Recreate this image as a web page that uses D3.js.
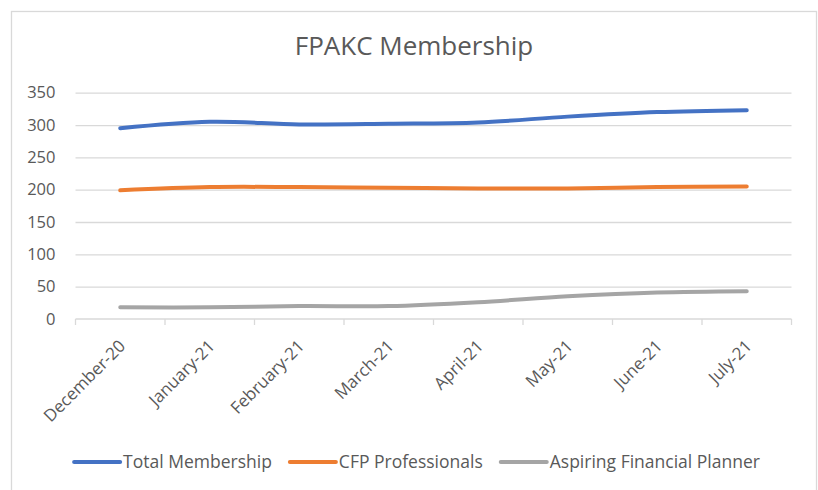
<!DOCTYPE html>
<html>
<head>
<meta charset="utf-8">
<script src="https://cdn.jsdelivr.net/npm/d3@7"></script>
<style>
  html, body { margin: 0; padding: 0; background: #fff; }
  svg { display: block; font-family: "Open Sans", "Noto Sans", sans-serif; }
</style>
</head>
<body>
<svg id="chart" width="818" height="490"></svg>
<script>
const categories = ["December-20", "January-21", "February-21", "March-21", "April-21", "May-21", "June-21", "July-21"];
const totalMembership = [295, 305, 301, 302, 304, 313, 320, 323];
const cfpProfessionals = [199, 204, 204, 203, 202, 202, 204, 205];
const aspiringPlanner = [18, 18, 20, 20, 26, 35, 41, 43];
const yTicks = [0, 50, 100, 150, 200, 250, 300, 350];
const seriesNames = ["Total Membership", "CFP Professionals", "Aspiring Financial Planner"];
const seriesColors = ["#4472C4", "#ED7D31", "#A5A5A5"];
const title = "FPAKC Membership";

const series = [totalMembership, cfpProfessionals, aspiringPlanner].map((vals, i) => ({
  name: seriesNames[i], color: seriesColors[i], values: vals
}));

const svg = d3.select("#chart");
const textColor = "#595959";
const gridColor = "#D9D9D9";

// chart frame
svg.append("rect")
  .attr("x", 11.5).attr("y", 11.5)
  .attr("width", 805).attr("height", 500)
  .attr("fill", "#fff").attr("stroke", gridColor).attr("stroke-width", 1.3);

const plot = { left: 75.5, right: 791.5, top: 92.7, bottom: 319 };

const x = d3.scaleBand().domain(categories).range([plot.left, plot.right]).padding(0);
const y = d3.scaleLinear().domain([0, 350]).range([plot.bottom, plot.top]);

// title
svg.append("text")
  .attr("x", 414).attr("y", 55)
  .attr("text-anchor", "middle")
  .attr("font-size", 26)
  .attr("fill", textColor)
  .text(title);

// gridlines
const yAxis = d3.axisLeft(y).tickValues(yTicks).tickSize(-(plot.right - plot.left)).tickPadding(20);
const gy = svg.append("g").attr("transform", `translate(${plot.left},0)`).call(yAxis);
gy.select(".domain").remove();
gy.selectAll(".tick line").attr("stroke", gridColor).attr("stroke-width", 1.3)
  .filter(d => d === 0).remove();
gy.selectAll(".tick text").attr("fill", textColor).attr("font-size", 16.5)
  .attr("font-family", "'Open Sans', sans-serif");

// x axis
const xAxis = d3.axisBottom(x).tickSize(0).tickPadding(0);
const gx = svg.append("g").attr("transform", `translate(0,${plot.bottom})`).call(xAxis);
gx.select(".domain").attr("stroke", gridColor).attr("stroke-width", 1.3).attr("d", `M${plot.left},0H${plot.right}`);
// tick marks at band boundaries
const boundaries = categories.map(c => x(c)).concat([plot.right]);
gx.selectAll(".bound").data(boundaries).enter().append("line")
  .attr("class", "bound")
  .attr("x1", d => d).attr("x2", d => d)
  .attr("y1", 0).attr("y2", 6)
  .attr("stroke", gridColor).attr("stroke-width", 1.3);
gx.selectAll(".tick text")
  .attr("fill", textColor).attr("font-size", 17)
  .attr("font-family", "'Open Sans', sans-serif")
  .attr("text-anchor", "end")
  .attr("dy", "0.35em")
  .attr("x", 0).attr("y", 0)
  .attr("transform", "translate(2,24) rotate(-45)");

// lines
const line = d3.line()
  .x((d, i) => x(categories[i]) + x.bandwidth() / 2)
  .y(d => y(d))
  .curve(d3.curveCatmullRom.alpha(0));

svg.append("g").selectAll("path").data(series).enter().append("path")
  .attr("d", d => line(d.values))
  .attr("fill", "none")
  .attr("stroke", d => d.color)
  .attr("stroke-width", 4)
  .attr("stroke-linecap", "round")
  .attr("stroke-linejoin", "round");

// legend
const legend = svg.append("g");
const legendY = 462;
const sampleLen = 46, sampleGap = 3, itemGap = 18;
const items = [];
series.forEach(s => {
  const g = legend.append("g");
  g.append("line").attr("x1", 0).attr("x2", sampleLen).attr("y1", 0).attr("y2", 0)
    .attr("stroke", s.color).attr("stroke-width", 4).attr("stroke-linecap", "round");
  const t = g.append("text").attr("x", sampleLen + sampleGap).attr("y", 0).attr("dy", "0.35em")
    .attr("font-size", 17.5).attr("fill", textColor).text(s.name);
  const w = sampleLen + sampleGap + t.node().getComputedTextLength();
  items.push({ g, w });
});
const totalW = d3.sum(items, d => d.w) + itemGap * (items.length - 1);
let startX = 417 - totalW / 2;
items.forEach(it => {
  it.g.attr("transform", `translate(${startX},${legendY})`);
  startX += it.w + itemGap;
});
</script>
</body>
</html>
